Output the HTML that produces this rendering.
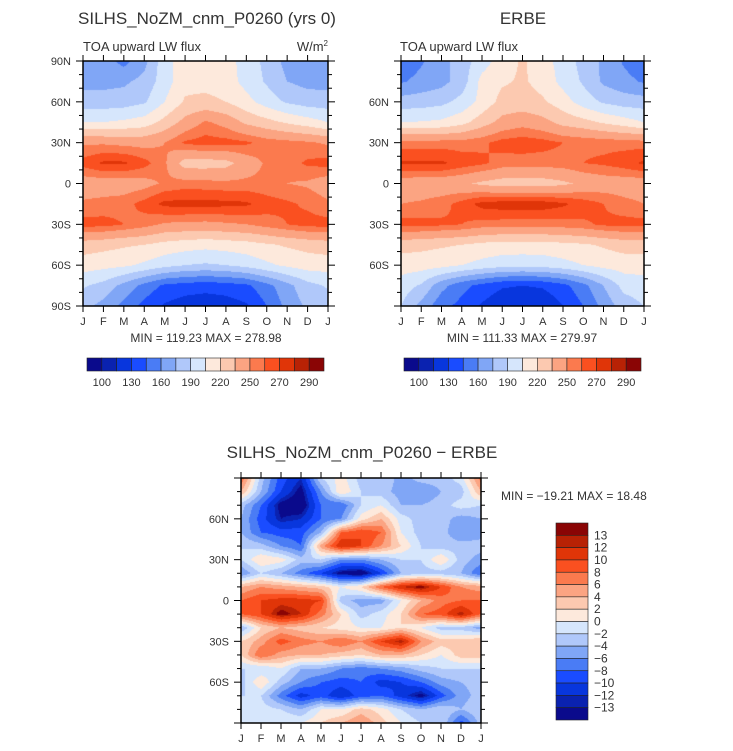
<!DOCTYPE html>
<html><head><meta charset="utf-8">
<style>
body{margin:0;background:#fff;width:733px;height:751px;position:relative;overflow:hidden;font-family:"Liberation Sans",sans-serif}
canvas{position:absolute}
svg{position:absolute;left:0;top:0}
text{font-family:"Liberation Sans",sans-serif;fill:#333}
</style></head><body>
<canvas id="c1" width="245" height="245" style="left:83px;top:61px"></canvas>
<canvas id="c2" width="243" height="245" style="left:401px;top:61px"></canvas>
<canvas id="c3" width="240" height="245" style="left:241px;top:478px"></canvas>
<svg id="s" width="733" height="751"></svg>
<script>
const months=["J","F","M","A","M","J","J","A","S","O","N","D","J"];
const palette=["#0a0a8c","#0a22b0","#0836dd","#1a4cff","#4a7cf5","#80a6f6","#b0c8fa","#d6e6fc","#fde9dc","#fcc9b0","#fba482","#fb7a4e","#fa5020","#e03508","#b82205","#8a0505"];
const absLevels=[100,115,130,145,160,175,190,205,220,235,250,260,270,280,290];
const absTickLabels=["100","130","160","190","220","250","270","290"];
const diffLevels=[-13,-12,-10,-8,-6,-4,-2,0,2,4,6,8,10,12,13];
const diffTickLabels=["13","12","10","8","6","4","2","0","−2","−4","−6","−8","−10","−12","−13"];
const absLats=[90,75,60,45,30,15,0,-15,-30,-45,-60,-75,-90];
const diffLats=[90,80,70,60,50,40,30,20,10,0,-10,-20,-30,-40,-50,-60,-70,-80,-90];
const modelValues=[
[168,168,155,170,200,212,212,210,200,185,170,168,168],
[170,170,172,180,198,215,215,212,200,188,175,170,170],
[182,182,183,188,205,222,224,220,210,198,188,183,182],
[205,205,208,212,225,240,252,245,232,225,218,212,205],
[248,248,246,245,250,262,265,264,262,256,254,252,248],
[264,272,272,264,252,228,228,230,242,252,255,262,264],
[242,242,242,245,252,255,254,253,253,253,250,248,242],
[252,254,256,264,273,274,274,273,272,265,262,258,252],
[264,264,260,255,248,247,246,248,250,255,260,264,264],
[228,225,222,220,215,212,210,212,214,218,222,225,228],
[212,210,208,202,195,190,188,190,195,202,208,212,212],
[192,185,170,155,142,138,136,138,142,155,170,185,192],
[180,170,155,140,128,122,120,122,128,145,165,178,180]];
const erbeValues=[
[148,158,170,182,198,212,222,212,198,185,172,158,148],
[158,165,170,182,210,218,222,215,200,188,172,165,158],
[182,183,186,195,210,225,226,222,212,198,188,183,182],
[205,206,208,215,228,240,245,240,230,225,218,212,205],
[255,255,255,255,258,264,266,264,260,258,257,256,255],
[272,272,272,266,262,256,255,255,256,260,262,266,272],
[242,240,240,238,232,228,228,228,232,238,242,242,242],
[250,252,256,264,274,276,276,276,272,266,260,254,250],
[264,264,262,260,256,255,255,255,256,258,262,264,264],
[226,224,222,220,216,214,214,214,216,218,222,226,226],
[212,212,210,205,200,196,195,196,200,205,210,212,212],
[198,188,165,150,140,132,130,132,140,155,175,195,198],
[190,170,150,140,128,118,115,118,130,145,165,182,190]];
const diffValues=[
[8,-3,-9,-12,-2,1,-3,-2,-5,-3,-3,-1,7],
[4,-4,-10,-14,-6,2,-2,-3,-5,-6,-4,-3,4],
[-3,-8,-14,-15,-8,-8,-2,0,-4,-4,-3,-1,-2],
[-4,-9,-13,-12,-8,-6,1,4,-1,-3,-3,-5,-4],
[-4,-8,-9,-9,-4,8,10,8,0,-3,-3,-6,-5],
[-2,-3,-6,-8,5,12,10,6,2,-2,-3,-3,-3],
[-2,2,1,-3,-2,-6,-6,-4,-2,-2,2,-3,-5],
[-6,-2,-4,-7,-10,-14,-15,-10,-4,-3,-3,-4,-8],
[4,6,5,4,3,0,2,8,12,14,10,6,5],
[8,10,11,11,10,-3,-5,-5,0,4,7,8,8],
[8,10,14,12,7,2,-3,-1,2,8,9,13,8],
[-4,2,4,3,2,1,0,0,2,0,-3,-3,-5],
[2,5,9,7,6,8,6,10,13,6,3,3,4],
[2,8,5,4,4,3,2,4,4,2,0,3,3],
[-2,-2,0,-4,-4,-6,-7,-6,-5,-3,-2,-2,-2],
[-3,2,-3,-6,-8,-9,-8,-11,-10,-8,-5,-4,-3],
[-2,-2,-7,-11,-9,-12,-9,-8,-11,-14,-9,-5,-3],
[-1,-1,-2,-4,0,0,3,1,-2,-4,-2,-4,-2],
[-2,-2,0,0,2,4,6,3,0,-2,-2,-9,-3]];

function level(v,levels){let i=0;while(i<levels.length&&v>=levels[i])i++;return i;}
function hex(c){return [parseInt(c.substr(1,2),16),parseInt(c.substr(3,2),16),parseInt(c.substr(5,2),16)];}
const rgb=palette.map(hex);
function drawField(id,grid,lats,levels){
  const cv=document.getElementById(id),ctx=cv.getContext('2d'),w=cv.width,h=cv.height;
  const img=ctx.createImageData(w,h);
  const nr=lats.length;
  for(let py=0;py<h;py++){
    const lat=90-(py+0.5)/h*180;
    let r=0;while(r<nr-2&&lats[r+1]>lat)r++;
    const fy=Math.min(1,Math.max(0,(lats[r]-lat)/(lats[r]-lats[r+1])));
    for(let px=0;px<w;px++){
      const m=(px+0.5)/w*12;let c=Math.min(11,Math.floor(m));const fx=m-c;
      const v=(grid[r][c]*(1-fx)+grid[r][c+1]*fx)*(1-fy)+(grid[r+1][c]*(1-fx)+grid[r+1][c+1]*fx)*fy;
      const col=rgb[level(v,levels)];const k=(py*w+px)*4;
      img.data[k]=col[0];img.data[k+1]=col[1];img.data[k+2]=col[2];img.data[k+3]=255;
    }
  }
  ctx.putImageData(img,0,0);
}
drawField('c1',modelValues,absLats,absLevels);
drawField('c2',erbeValues,absLats,absLevels);
drawField('c3',diffValues,diffLats,diffLevels);

const svg=document.getElementById('s');const NS="http://www.w3.org/2000/svg";
function el(tag,attrs,txt){const e=document.createElementNS(NS,tag);for(const k in attrs)e.setAttribute(k,attrs[k]);if(txt!==undefined)e.textContent=txt;svg.appendChild(e);return e;}
function txt(x,y,s,size,anchor,name){const t=el('text',{x:x,y:y,'font-size':size,'text-anchor':anchor||'start'},s);

return t;}
function axes(x0,y0,w,h,latLabels,prefix){
  const b=el('rect',{x:x0,y:y0,width:w,height:h,fill:'none',stroke:'#000','stroke-width':1.5});
  
  
  for(let i=0;i<=12;i++){const x=x0+i*w/12;
    el('line',{x1:x,y1:y0,x2:x,y2:y0-6,stroke:'#000'});
    el('line',{x1:x,y1:y0+h,x2:x,y2:y0+h+6,stroke:'#000'});
    txt(x,y0+h+19,months[i],11,'middle',prefix+'-month-label');}
  for(let d=0;d<=18;d++){const y=y0+d*h/18;const major=d%3===0;const L=major?7:4;
    el('line',{x1:x0,y1:y,x2:x0-L,y2:y,stroke:'#000'});
    el('line',{x1:x0+w,y1:y,x2:x0+w+L,y2:y,stroke:'#000'});}
  const names={90:'90N',60:'60N',30:'30N',0:'0','-30':'30S','-60':'60S','-90':'90S'};
  latLabels.forEach(l=>{const y=y0+(90-l)/180*h;txt(x0-12,y+4,names[l],11,'end',prefix+'-lat-label');});
}
function hbar(x0,y0,w,h,labels,prefix){
  const bw=w/16;
  for(let i=0;i<16;i++){const r=el('rect',{x:x0+i*bw,y:y0,width:bw,height:h,fill:palette[i],stroke:'#222','stroke-width':0.6});
    
    }
  labels.forEach((s,j)=>txt(x0+(2*j+1)*bw,y0+h+15,s,11,'middle',prefix+'-colorbar-label'));
}
// top-left
txt(207,24,'SILHS_NoZM_cnm_P0260 (yrs 0)',17,'middle','model-title').setAttribute('fill','#444');
txt(83,51,'TOA upward LW flux',13,'start','model-subtitle');
const u=txt(328,51,'W/m',13,'end','units-label');
const sup=document.createElementNS(NS,'tspan');sup.setAttribute('font-size','8');sup.setAttribute('dy','-5');sup.textContent='2';u.appendChild(sup);
axes(83,61,245,245,[90,60,30,0,-30,-60,-90],'model');
txt(206,342,'MIN = 119.23 MAX = 278.98',12,'middle','model-min-max');
hbar(87,358,237,13,absTickLabels,'model');
// top-right
txt(523,24,'ERBE',17,'middle','erbe-title').setAttribute('fill','#444');
txt(400,51,'TOA upward LW flux',13,'start','erbe-subtitle');
axes(401,61,243,245,[60,30,0,-30,-60],'erbe');
txt(522,342,'MIN = 111.33 MAX = 279.97',12,'middle','erbe-min-max');
hbar(404,358,237,13,absTickLabels,'erbe');
// bottom
txt(362,458,'SILHS_NoZM_cnm_P0260 − ERBE',17,'middle','diff-title').setAttribute('fill','#444');
axes(241,478,240,245,[60,30,0,-30,-60],'diff');
txt(501,500,'MIN = −19.21  MAX =   18.48',12,'start','diff-min-max');
(function(){const x0=556,y0=523,w=32,h=197,bh=h/16;
  for(let i=0;i<16;i++){const r=el('rect',{x:x0,y:y0+i*bh,width:w,height:bh,fill:palette[15-i],stroke:'#222','stroke-width':0.6});
    
    }
  diffTickLabels.forEach((s,j)=>txt(x0+w+6,y0+(j+1)*bh+4,s,12,'start','diff-colorbar-label'));
})();
</script>
</body></html>
